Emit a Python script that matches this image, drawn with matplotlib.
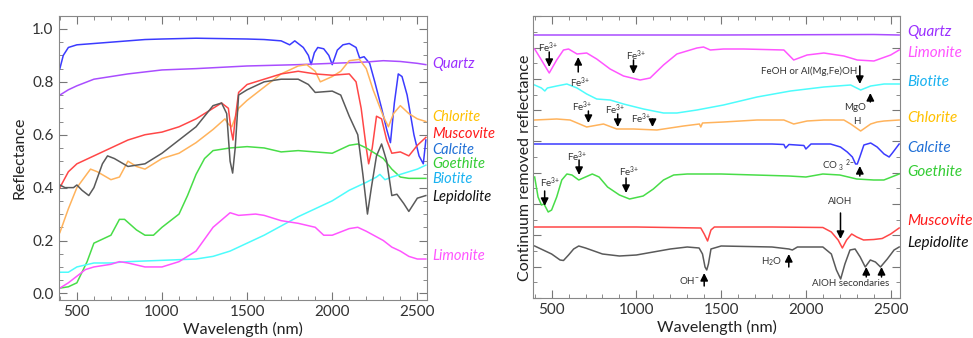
import matplotlib.pyplot as plt
from matplotlib.ticker import MultipleLocator, NullFormatter

plt.rcParams['font.family'] = ['Lato', 'DejaVu Sans']
plt.rcParams['mathtext.default'] = 'regular'

# ---- left panel: reflectance spectra ----
calcite_wl = [400, 420, 450, 500, 600, 700, 800, 900, 1000, 1200, 1400, 1500, 1600, 1700, 1750, 1780, 1830,
              1860, 1876, 1895, 1915, 1950, 1980, 2000, 2030, 2063, 2100, 2140, 2161, 2187, 2220, 2250, 2290,
              2320, 2342, 2365, 2388, 2410, 2440, 2480, 2510, 2535, 2550]
calcite_refl = [0.85, 0.90, 0.93, 0.94, 0.945, 0.95, 0.955, 0.96, 0.962, 0.965, 0.963, 0.962, 0.96, 0.955,
                0.94, 0.955, 0.93, 0.90, 0.865, 0.91, 0.93, 0.925, 0.90, 0.865, 0.92, 0.94, 0.945, 0.93, 0.89,
                0.895, 0.87, 0.80, 0.70, 0.62, 0.57, 0.72, 0.83, 0.82, 0.75, 0.60, 0.52, 0.49, 0.58]

quartz_wl = [400, 450, 500, 600, 700, 800, 1000, 1200, 1500, 1800, 2000, 2200, 2300, 2400, 2500, 2550]
quartz_refl = [0.75, 0.77, 0.785, 0.81, 0.82, 0.83, 0.845, 0.85, 0.86, 0.865, 0.87, 0.875, 0.88, 0.877, 0.87, 0.865]

chlorite_wl = [400, 450, 500, 580, 620, 700, 750, 800, 850, 900, 1000, 1100, 1200, 1300, 1370, 1390, 1410,
               1450, 1500, 1600, 1700, 1800, 1850, 1900, 1930, 2000, 2050, 2100, 2160, 2200, 2240, 2270, 2300,
               2330, 2360, 2400, 2450, 2500, 2550]
chlorite_refl = [0.23, 0.32, 0.40, 0.47, 0.46, 0.43, 0.44, 0.50, 0.48, 0.47, 0.51, 0.53, 0.57, 0.62, 0.66,
                 0.64, 0.63, 0.70, 0.73, 0.78, 0.83, 0.86, 0.865, 0.84, 0.80, 0.82, 0.84, 0.88, 0.885, 0.85,
                 0.77, 0.72, 0.67, 0.63, 0.68, 0.71, 0.68, 0.66, 0.65]

muscovite_wl = [400, 450, 500, 600, 700, 800, 900, 1000, 1100, 1200, 1300, 1350, 1390, 1405, 1417, 1430,
                1450, 1500, 1600, 1700, 1800, 1900, 2000, 2100, 2140, 2170, 2200, 2214, 2235, 2260, 2290,
                2320, 2350, 2400, 2450, 2500, 2550]
muscovite_refl = [0.40, 0.46, 0.49, 0.52, 0.55, 0.58, 0.60, 0.61, 0.63, 0.66, 0.70, 0.72, 0.70, 0.62, 0.58,
                  0.66, 0.76, 0.79, 0.81, 0.83, 0.84, 0.83, 0.825, 0.83, 0.80, 0.70, 0.55, 0.49, 0.55, 0.67,
                  0.66, 0.58, 0.53, 0.535, 0.52, 0.56, 0.59]

goethite_wl = [400, 450, 500, 560, 600, 650, 700, 750, 780, 850, 900, 950, 1000, 1100, 1150, 1200, 1250,
               1300, 1400, 1500, 1600, 1700, 1800, 1900, 2000, 2100, 2150, 2200, 2300, 2350, 2400, 2450, 2550]
goethite_refl = [0.02, 0.025, 0.04, 0.12, 0.19, 0.205, 0.22, 0.28, 0.28, 0.24, 0.22, 0.22, 0.25, 0.30, 0.37,
                 0.45, 0.51, 0.54, 0.55, 0.555, 0.55, 0.535, 0.54, 0.535, 0.53, 0.56, 0.565, 0.55, 0.51, 0.47,
                 0.44, 0.435, 0.435]

biotite_wl = [400, 450, 500, 600, 700, 800, 1000, 1200, 1300, 1400, 1500, 1600, 1700, 1800, 1900, 2000,
              2100, 2200, 2260, 2280, 2310, 2350, 2400, 2500, 2550]
biotite_refl = [0.08, 0.08, 0.10, 0.115, 0.115, 0.12, 0.125, 0.13, 0.14, 0.16, 0.19, 0.22, 0.255, 0.29, 0.32,
                0.35, 0.39, 0.42, 0.44, 0.45, 0.43, 0.44, 0.45, 0.47, 0.485]

lepidolite_wl = [400, 430, 480, 500, 530, 570, 600, 650, 680, 720, 800, 900, 1000, 1100, 1200, 1300, 1350,
                 1380, 1400, 1415, 1430, 1450, 1500, 1600, 1700, 1800, 1860, 1900, 2000, 2050, 2100, 2150,
                 2180, 2207, 2230, 2260, 2290, 2320, 2350, 2380, 2420, 2450, 2500, 2550]
lepidolite_refl = [0.41, 0.40, 0.40, 0.41, 0.39, 0.37, 0.40, 0.49, 0.52, 0.51, 0.48, 0.49, 0.53, 0.58, 0.63,
                   0.71, 0.72, 0.68, 0.50, 0.455, 0.55, 0.75, 0.77, 0.80, 0.81, 0.81, 0.79, 0.76, 0.765, 0.75,
                   0.67, 0.60, 0.45, 0.30, 0.40, 0.52, 0.565, 0.50, 0.37, 0.375, 0.34, 0.31, 0.36, 0.37]

limonite_wl = [400, 450, 500, 550, 600, 700, 750, 800, 900, 1000, 1100, 1200, 1300, 1400, 1450, 1550, 1600,
               1700, 1800, 1900, 1950, 2000, 2100, 2150, 2200, 2300, 2350, 2400, 2450, 2500, 2550]
limonite_refl = [0.02, 0.04, 0.065, 0.09, 0.10, 0.11, 0.12, 0.115, 0.10, 0.10, 0.12, 0.16, 0.25, 0.305,
                 0.295, 0.30, 0.295, 0.275, 0.265, 0.25, 0.22, 0.22, 0.245, 0.25, 0.235, 0.20, 0.175, 0.16,
                 0.14, 0.13, 0.13]

# ---- right panel: continuum removed spectra (stacked, arbitrary offset units) ----
quartz_cr_wl = [400, 1500, 2400, 2550]
quartz_cr = [263, 263, 263.5, 263]

limonite_cr_wl = [400, 440, 486, 530, 570, 600, 650, 707, 766, 845, 924, 1022, 1081, 1160, 1239, 1357, 1396,
                  1436, 1514, 1633, 1870, 1928, 2007, 2106, 2224, 2303, 2401, 2500, 2550]
limonite_cr = [249, 238, 225, 238, 248, 249, 244, 245, 239, 229, 222, 218, 220, 233, 244, 250, 251, 248, 249,
               249, 248, 238, 243, 245, 242, 238, 237, 243, 248]

biotite_cr_wl = [400, 440, 460, 475, 530, 590, 650, 707, 766, 845, 924, 1042, 1160, 1239, 1357, 1514, 1712,
                 1909, 2106, 2264, 2323, 2382, 2461, 2550]
biotite_cr = [213, 210, 207, 210, 212, 214, 210, 204, 199, 198, 194, 189, 185, 185, 188, 193, 201, 207, 211,
              213, 208, 212, 214, 214]

chlorite_cr_wl = [400, 530, 609, 707, 806, 884, 983, 1121, 1278, 1372, 1380, 1390, 1514, 1712, 1870, 1928,
                  2007, 2106, 2224, 2264, 2323, 2382, 2420, 2461, 2550]
chlorite_cr = [178, 179, 178, 171, 174, 169, 169, 168, 172, 174, 171, 175, 176, 178, 178, 174, 177, 178, 178,
               174, 167, 174, 176, 177, 178]

calcite_cr_wl = [400, 1000, 1500, 1800, 1870, 1880, 1900, 1988, 2000, 2030, 2145, 2204, 2244, 2274, 2293,
                 2303, 2318, 2342, 2382, 2420, 2461, 2491, 2510, 2550]
calcite_cr = [154, 154, 154, 154, 153.5, 150, 153.5, 152.5, 149, 154, 154, 151, 146, 141, 134, 134, 141, 153,
              155, 151, 144, 141, 145, 154]

goethite_cr_wl = [400, 420, 440, 455, 480, 500, 530, 560, 590, 620, 660, 700, 740, 780, 830, 900, 960, 1040,
                  1100, 1160, 1220, 1300, 1500, 1700, 1900, 2000, 2100, 2200, 2300, 2400, 2460, 2550]
goethite_cr = [121, 101, 93, 94, 86, 88, 101, 118, 124, 123, 118, 121, 124, 121, 111, 103, 99, 102, 109, 118,
               123, 124, 124, 123, 122, 121, 124, 123, 119, 118, 118, 124]

muscovite_cr_wl = [400, 1000, 1380, 1400, 1420, 1440, 1460, 1800, 2100, 2150, 2190, 2215, 2240, 2270, 2300,
                   2340, 2400, 2450, 2500, 2550]
muscovite_cr = [71, 71, 70, 64, 57, 68, 71, 71, 70.5, 66, 58, 50, 58, 64, 61, 58, 58.5, 59.5, 64, 70]

lepidolite_cr_wl = [400, 450, 500, 550, 570, 600, 630, 660, 700, 800, 900, 1000, 1100, 1200, 1300, 1370,
                    1390, 1405, 1415, 1425, 1440, 1500, 1800, 1900, 1920, 1950, 2100, 2150, 2180, 2205, 2230,
                    2260, 2290, 2320, 2350, 2380, 2410, 2440, 2480, 2520, 2550]
lepidolite_cr = [52, 48, 44, 38, 37.5, 43, 49, 52, 50, 44, 42, 43, 46, 49, 51, 50, 44, 31, 28, 34, 49, 52, 51,
                 49, 48, 51, 51, 44, 28, 19, 34, 48, 49, 41, 31, 38, 36, 31, 39, 48, 51]

minerals = ['Quartz', 'Chlorite', 'Muscovite', 'Calcite', 'Goethite', 'Biotite', 'Lepidolite', 'Limonite']
line_colors = {'Quartz': '#a94dff', 'Chlorite': '#ffb35c', 'Muscovite': '#ff4747', 'Calcite': '#3b3bff',
               'Goethite': '#48dd48', 'Biotite': '#4dfcfc', 'Lepidolite': '#5a5a5a', 'Limonite': '#ff55ff'}
label_colors = {'Quartz': '#9b30ff', 'Chlorite': '#ffc000', 'Muscovite': '#ff1a1a', 'Calcite': '#1f6fd6',
                'Goethite': '#33cc33', 'Biotite': '#1ab2f0', 'Lepidolite': '#111111', 'Limonite': '#ff55ff'}

left_series = {'Calcite': (calcite_wl, calcite_refl), 'Quartz': (quartz_wl, quartz_refl),
               'Chlorite': (chlorite_wl, chlorite_refl), 'Muscovite': (muscovite_wl, muscovite_refl),
               'Goethite': (goethite_wl, goethite_refl), 'Biotite': (biotite_wl, biotite_refl),
               'Lepidolite': (lepidolite_wl, lepidolite_refl), 'Limonite': (limonite_wl, limonite_refl)}
right_series = {'Quartz': (quartz_cr_wl, quartz_cr), 'Limonite': (limonite_cr_wl, limonite_cr),
                'Biotite': (biotite_cr_wl, biotite_cr), 'Chlorite': (chlorite_cr_wl, chlorite_cr),
                'Calcite': (calcite_cr_wl, calcite_cr), 'Goethite': (goethite_cr_wl, goethite_cr),
                'Muscovite': (muscovite_cr_wl, muscovite_cr), 'Lepidolite': (lepidolite_cr_wl, lepidolite_cr)}

# label positions (figure pixels from top)
left_label_y = {'Quartz': 64, 'Chlorite': 117, 'Muscovite': 134, 'Calcite': 150, 'Goethite': 164,
                'Biotite': 179, 'Lepidolite': 197, 'Limonite': 256}
right_label_y = {'Quartz': 32, 'Limonite': 53, 'Biotite': 82, 'Chlorite': 118, 'Calcite': 148,
                 'Goethite': 172, 'Muscovite': 221, 'Lepidolite': 243}

# absorption feature annotations: (text, text_x, text_y, arrow_x, arrow_from, arrow_to)
features = [
    ('Fe$^{3{+}}$', 480, 250, 486, 246, 231),
    ('Fe$^{3{+}}$', 668, 215, 657, 226, 241),
    ('Fe$^{3{+}}$', 1000, 242, 983, 238, 224),
    ('FeOH or Al(Mg,Fe)OH', 2020, 227, 2318, 232, 214),
    ('MgO', 2290, 190, 2380, 196, 205),
    ('H', 2300, 176, None, None, None),
    ('Fe$^{3{+}}$', 680, 191, 717, 187, 175),
    ('Fe$^{3{+}}$', 875, 188, 890, 184, 171),
    ('Fe$^{3{+}}$', 1030, 179, 1095, 179, 171),
    ('CO $_3$ $^{2{-}}$', 2190, 132, 2318, 122, 132),
    ('Fe$^{3{+}}$', 650, 141, 662, 138, 123),
    ('Fe$^{3{+}}$', 490, 115, 459, 107, 92),
    ('Fe$^{3{+}}$', 960, 126, 939, 120, 105),
    ('AlOH', 2200, 96, 2204, 85, 59),
    ('H$_2$O', 1800, 36, 1899, 31, 44),
    ('OH$^{-}$', 1310, 18, 1400, 12, 25),
    ('AlOH secondaries', 2265, 14, 2356, 21, 31),
    ('', 0, 0, 2446, 21, 31),
]

W, H = 973, 338
fig = plt.figure(figsize=(W / 100, H / 100), dpi=100)
ax1 = fig.add_axes([58.5 / W, 1 - 300 / H, 368.2 / W, 284 / H])
ax2 = fig.add_axes([533.3 / W, 1 - 298 / H, 366.7 / W, 282 / H])

for name, (wl, refl) in left_series.items():
    ax1.plot(wl, refl, color=line_colors[name], lw=1.1)
for name, (wl, refl) in right_series.items():
    ax2.plot(wl, refl, color=line_colors[name], lw=1.1)

ax1.set_ylim(-0.025, 1.049)
ax1.yaxis.set_major_locator(MultipleLocator(0.2))
ax1.yaxis.set_minor_locator(MultipleLocator(0.05))
ax1.set_ylabel('Reflectance', fontsize=11.5, color='#222222')
ax1.yaxis.set_label_coords(-0.086, 0.5)

ax2.set_ylim(0, 282)
ax2.yaxis.set_major_locator(MultipleLocator(31.3))
ax2.yaxis.set_minor_locator(MultipleLocator(15.65))
ax2.yaxis.set_major_formatter(NullFormatter())
ax2.set_ylabel('Continuum removed reflectance', fontsize=11.5, color='#222222')
ax2.yaxis.set_label_coords(-0.004, 0.46)

for ax in (ax1, ax2):
    ax.set_xlim(392, 2555)
    ax.xaxis.set_major_locator(MultipleLocator(500))
    ax.xaxis.set_minor_locator(MultipleLocator(100))
    ax.set_xlabel('Wavelength (nm)', fontsize=11.5, color='#222222', labelpad=2)
    ax.tick_params(which='both', direction='in', top=True, right=True, color='#777777',
                   labelsize=11, labelcolor='#333333')
    ax.tick_params(which='major', length=6)
    ax.tick_params(which='minor', length=3)
    for s in ax.spines.values():
        s.set_color('#888888')

for name in minerals:
    fig.text(432 / W, 1 - left_label_y[name] / H, name, color=label_colors[name], fontsize=10.5,
             style='italic', va='center', ha='left')
    fig.text(907 / W, 1 - right_label_y[name] / H, name, color=label_colors[name], fontsize=11,
             style='italic', va='center', ha='left')

for text, tx, ty, axx, y0, y1 in features:
    if text:
        ax2.text(tx, ty, text, fontsize=7, color='#333333', ha='center', va='center')
    if axx is not None:
        ax2.annotate('', xy=(axx, y1), xytext=(axx, y0),
                     arrowprops=dict(arrowstyle='-|>,head_length=0.5,head_width=0.25', color='black',
                                     lw=1.1, mutation_scale=9, shrinkA=0, shrinkB=0))

fig.savefig('out.png', dpi=100)
